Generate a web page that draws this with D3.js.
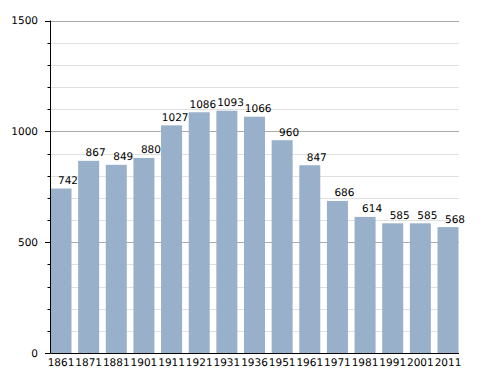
<!DOCTYPE html>
<html lang="en">
<head>
  <meta charset="UTF-8">
  <title>Population</title>
  <script src="https://d3js.org/d3.v7.min.js"></script>
  <style>
    body { margin: 0; background: #fff; }
    svg { display: block; font-family: "DejaVu Sans", sans-serif; text-rendering: geometricPrecision; }
  </style>
</head>
<body>
  <svg width="488" height="373"></svg>
  <script>
const years = ["1861", "1871", "1881", "1901", "1911", "1921", "1931", "1936", "1951", "1961", "1971", "1981", "1991", "2001", "2011"];
const population = [742, 867, 849, 880, 1027, 1086, 1093, 1066, 960, 847, 686, 614, 585, 585, 568];
const majorTicks = [0, 500, 1000, 1500];
const minorTicks = d3.range(0, 1501, 100);

const svg = d3.select("svg");
const plotLeft = 50.5, plotRight = 459, plotTop = 20.5, plotBottom = 353;

const x = d3.scaleBand()
  .domain(years)
  .range([plotLeft, 458.5])
  .paddingInner(0.24)
  .paddingOuter(0);

const y = d3.scaleLinear()
  .domain([0, 1500])
  .range([plotBottom, plotTop]);

// minor grid
svg.append("g").selectAll("line")
  .data(minorTicks.filter(d => d % 500 !== 0))
  .join("line")
  .attr("x1", plotLeft).attr("x2", plotRight)
  .attr("y1", d => Math.round(y(d)) + 0.5).attr("y2", d => Math.round(y(d)) + 0.5)
  .attr("stroke", "#e0e0e0");

// major grid
svg.append("g").selectAll("line")
  .data(majorTicks.filter(d => d > 0))
  .join("line")
  .attr("x1", plotLeft).attr("x2", plotRight)
  .attr("y1", d => Math.round(y(d)) + 0.5).attr("y2", d => Math.round(y(d)) + 0.5)
  .attr("stroke", "#aaaaaa");

// bars
svg.append("g").selectAll("rect")
  .data(population)
  .join("rect")
  .attr("x", (d, i) => x(years[i]))
  .attr("width", x.bandwidth())
  .attr("y", d => y(d))
  .attr("height", d => plotBottom - y(d))
  .attr("fill", "#99b0cb");

// value labels
svg.append("g").selectAll("text")
  .data(population)
  .join("text")
  .attr("x", (d, i) => x(years[i]) + x.bandwidth() + 6.5)
  .attr("y", d => y(d) - 4.5)
  .attr("text-anchor", "end")
  .attr("font-size", 10.5)
  .attr("fill", "#000")
  .text(d => d);

// y axis
const yAxis = svg.append("g");
yAxis.append("line")
  .attr("x1", plotLeft).attr("x2", plotLeft)
  .attr("y1", plotTop).attr("y2", plotBottom)
  .attr("stroke", "#000");
yAxis.selectAll(".tick")
  .data(minorTicks)
  .join("line")
  .attr("class", "tick")
  .attr("x1", d => d % 500 === 0 ? plotLeft - 5.5 : plotLeft - 3)
  .attr("x2", plotLeft)
  .attr("y1", d => Math.round(y(d)) + 0.5).attr("y2", d => Math.round(y(d)) + 0.5)
  .attr("stroke", "#000");
yAxis.selectAll("text")
  .data(majorTicks)
  .join("text")
  .attr("x", 38)
  .attr("y", d => y(d))
  .attr("dy", "0.36em")
  .attr("text-anchor", "end")
  .attr("font-size", 10.5)
  .text(d => d);

// x axis
svg.append("line")
  .attr("x1", plotLeft).attr("x2", plotRight)
  .attr("y1", plotBottom + 0.5).attr("y2", plotBottom + 0.5)
  .attr("stroke", "#000");
svg.append("g").selectAll("text")
  .data(years)
  .join("text")
  .attr("x", d => x(d) + x.bandwidth() / 2)
  .attr("y", 365.5)
  .attr("text-anchor", "middle")
  .attr("font-size", 10.5)
  .text(d => d);
  </script>
</body>
</html>
